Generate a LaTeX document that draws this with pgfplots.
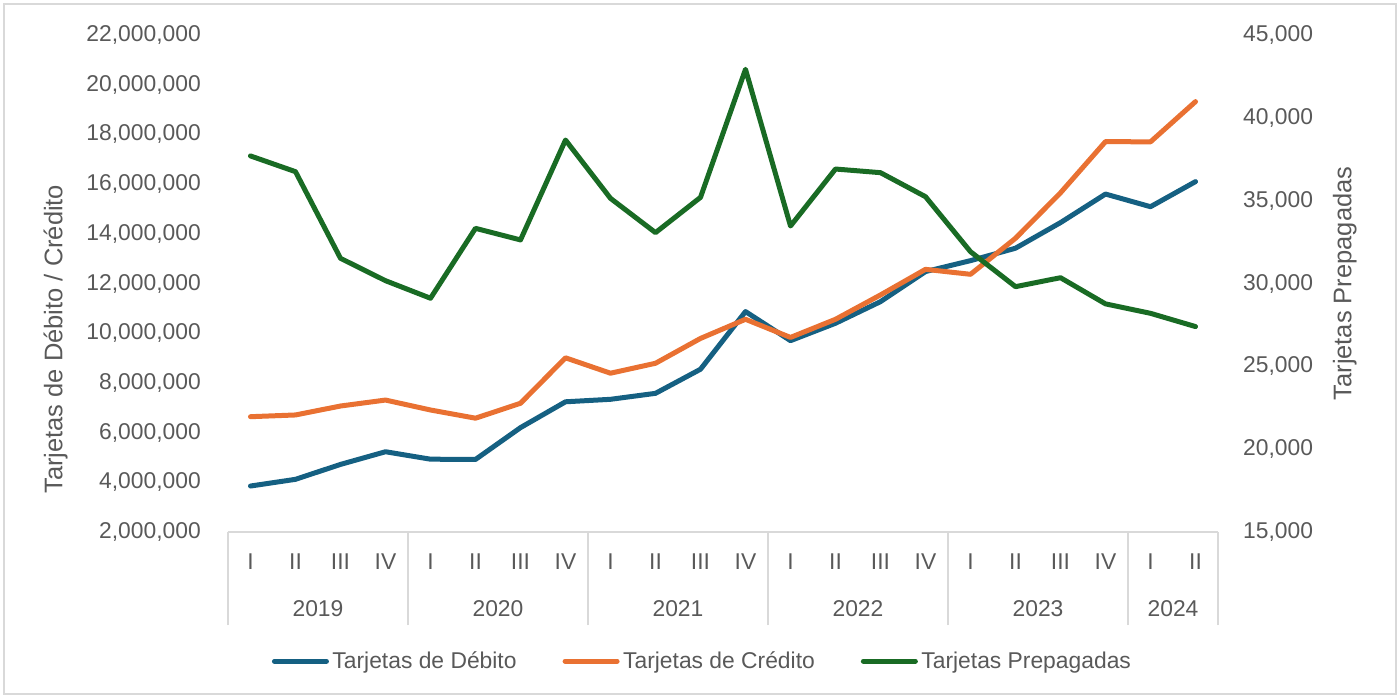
\documentclass[border=0pt]{standalone}
\usepackage{pgfplots}
\usepackage{pgfplotstable}
\pgfplotsset{compat=1.18}
\usepackage{fontspec}
\setmainfont{Liberation Sans}

\definecolor{deb}{HTML}{156082}
\definecolor{cre}{HTML}{E97132}
\definecolor{pre}{HTML}{196B24}
\definecolor{txt}{HTML}{595959}
\definecolor{lin}{HTML}{D9D9D9}

% idx: quarters 2019-I ... 2024-II
\pgfplotstableread{
idx deb      cre      pre
1   3850000  6640000  37700
2   4120000  6710000  36750
3   4720000  7070000  31520
4   5230000  7310000  30170
5   4930000  6910000  29110
6   4920000  6580000  33330
7   6200000  7180000  32630
8   7240000  9010000  38660
9   7340000  8390000  35140
10  7580000  8790000  33070
11  8550000  9790000  35200
12  10870000 10560000 42930
13  9700000  9830000  33470
14  10400000 10560000 36910
15  11270000 11540000 36690
16  12480000 12570000 35240
17  12920000 12370000 31920
18  13420000 13820000 29810
19  14450000 15650000 30350
20  15600000 17710000 28770
21  15090000 17700000 28200
22  16100000 19320000 27400
}\datos

\tikzset{
  titulo/.style={font=\fontsize{14.5}{17}\selectfont, text=txt, rotate=90, anchor=center},
  serie/.style={line width=0.1cm, line join=round, line cap=round},
}
\pgfplotsset{
  comun/.style={
    width=19.8cm, height=9.94cm, scale only axis,
    at={(0,0)}, anchor=south west,
    xmin=0.5, xmax=22.5,
    clip=false,
    tick label style={font=\fontsize{13}{15}\selectfont, text=txt},
    /pgf/number format/assume math mode=true,
    y axis line style={draw=none},
    ytick style={draw=none},
  },
}

\begin{document}
\begin{tikzpicture}
\path[use as bounding box] (-4.56,-3.32) rectangle (23.44,10.64);

\begin{axis}[comun,
  axis x line*=bottom, axis y line*=left,
  x axis line style={draw=lin, line width=0.04cm},
  ymin=2000000, ymax=22000000,
  ytick={2000000,4000000,6000000,8000000,10000000,12000000,14000000,16000000,18000000,20000000,22000000},
  scaled y ticks=false,
  yticklabel style={/pgf/number format/fixed, /pgf/number format/1000 sep={,}, xshift=-0.42cm},
  xtick={1,...,22},
  xticklabels={I,II,III,IV,I,II,III,IV,I,II,III,IV,I,II,III,IV,I,II,III,IV,I,II},
  xtick style={draw=none},
  xticklabel style={anchor=center, yshift=-0.6cm},
  extra x ticks={0.5,4.5,8.5,12.5,16.5,20.5,22.5},
  extra x tick labels={},
  extra x tick style={tick align=outside, major tick length=1.86cm,
    xtick style={draw=lin, line width=0.04cm}},
  ylabel={Tarjetas de Débito / Crédito},
  every axis y label/.style={titulo, at={(axis description cs:-0.174,0.388)}},
]
\addplot[serie, deb] table[x=idx, y=deb] {\datos};
\addplot[serie, cre] table[x=idx, y=cre] {\datos};
\node[font=\fontsize{13}{15}\selectfont, text=txt, yshift=-1.54cm] at (axis cs:2.5,2000000) {2019};
\node[font=\fontsize{13}{15}\selectfont, text=txt, yshift=-1.54cm] at (axis cs:6.5,2000000) {2020};
\node[font=\fontsize{13}{15}\selectfont, text=txt, yshift=-1.54cm] at (axis cs:10.5,2000000) {2021};
\node[font=\fontsize{13}{15}\selectfont, text=txt, yshift=-1.54cm] at (axis cs:14.5,2000000) {2022};
\node[font=\fontsize{13}{15}\selectfont, text=txt, yshift=-1.54cm] at (axis cs:18.5,2000000) {2023};
\node[font=\fontsize{13}{15}\selectfont, text=txt, yshift=-1.54cm] at (axis cs:21.5,2000000) {2024};
\end{axis}

\begin{axis}[comun,
  axis x line=none, axis y line*=right,
  ymin=15000, ymax=45000,
  ytick={15000,20000,25000,30000,35000,40000,45000},
  scaled y ticks=false,
  yticklabel style={/pgf/number format/fixed, /pgf/number format/1000 sep={,}, xshift=0.38cm},
  ylabel={Tarjetas Prepagadas},
  every axis y label/.style={titulo, at={(axis description cs:1.128,0.5)}},
  legend style={at={(axis description cs:0.48,-0.26)}, anchor=center,
    legend columns=3, draw=none, fill=none,
    font=\fontsize{13}{15}\selectfont, text=txt,
    /tikz/every even column/.append style={column sep=0.85cm}},
  legend cell align=left,
  legend image code/.code={\draw[#1] (0cm,0cm) -- (1.04cm,0cm);},
]
\addlegendimage{serie, deb}
\addlegendentry{Tarjetas de Débito}
\addlegendimage{serie, cre}
\addlegendentry{Tarjetas de Crédito}
\addplot[serie, pre] table[x=idx, y=pre] {\datos};
\addlegendentry{Tarjetas Prepagadas}
\end{axis}

\draw[draw=lin, line width=0.04cm] (-4.48,-3.24) rectangle (23.36,10.56);
\end{tikzpicture}
\end{document}
